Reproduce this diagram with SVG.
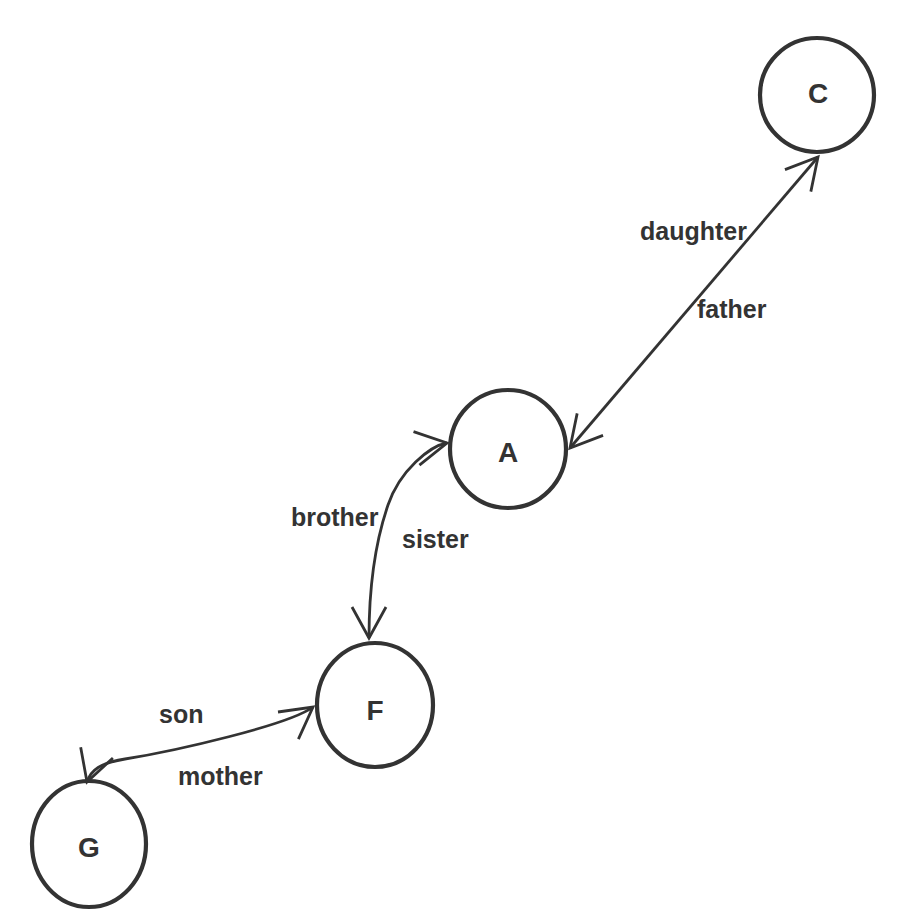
<svg xmlns="http://www.w3.org/2000/svg" width="898" height="924" viewBox="0 0 898 924">
<style>
.node-shape{fill:none;stroke:#333;stroke-width:4.2}
.node-label{font-family:"Liberation Sans",Arial,Helvetica,sans-serif;font-weight:bold;font-size:28px;fill:#333;text-anchor:middle}
.edge{fill:none;stroke:#333;stroke-width:2.8}
.edge-label{font-family:"Liberation Sans",Arial,Helvetica,sans-serif;font-weight:bold;font-size:25px;fill:#333}
</style>
<defs>
<marker id="arrow" markerUnits="userSpaceOnUse" markerWidth="80" markerHeight="80" refX="0" refY="0" orient="auto-start-reverse" overflow="visible">
<path d="M-31,-17 L0,0 L-31,17" fill="none" stroke="#333" stroke-width="2.8"/>
</marker>
</defs>
<rect width="898" height="924" fill="#fff"/>
<g id="connectors">
<path class="edge" d="M570,448 L818,157" marker-start="url(#arrow)" marker-end="url(#arrow)"/>
<path class="edge" d="M447,443 C430,446 400,470 388,505 C376,540 369,580 369,638" marker-start="url(#arrow)" marker-end="url(#arrow)"/>
<path class="edge" d="M87,782 C91,770 100,763 125,759 C175,751 289,725 313,707" marker-start="url(#arrow)" marker-end="url(#arrow)"/>
<text class="edge-label" x="640" y="240">daughter</text>
<text class="edge-label" x="697" y="318">father</text>
<text class="edge-label" x="291" y="526">brother</text>
<text class="edge-label" x="402" y="548">sister</text>
<text class="edge-label" x="159" y="723">son</text>
<text class="edge-label" x="178" y="785">mother</text>
</g>
<g id="node-C">
<ellipse class="node-shape" cx="817" cy="95" rx="57" ry="57"/>
<text class="node-label" x="818" y="103">C</text>
</g>
<g id="node-A">
<ellipse class="node-shape" cx="508" cy="449" rx="58" ry="59"/>
<text class="node-label" x="508" y="462">A</text>
</g>
<g id="node-F">
<ellipse class="node-shape" cx="375" cy="705" rx="58" ry="62"/>
<text class="node-label" x="375" y="720">F</text>
</g>
<g id="node-G">
<ellipse class="node-shape" cx="89" cy="844" rx="57" ry="63"/>
<text class="node-label" x="89" y="857">G</text>
</g>
</svg>
